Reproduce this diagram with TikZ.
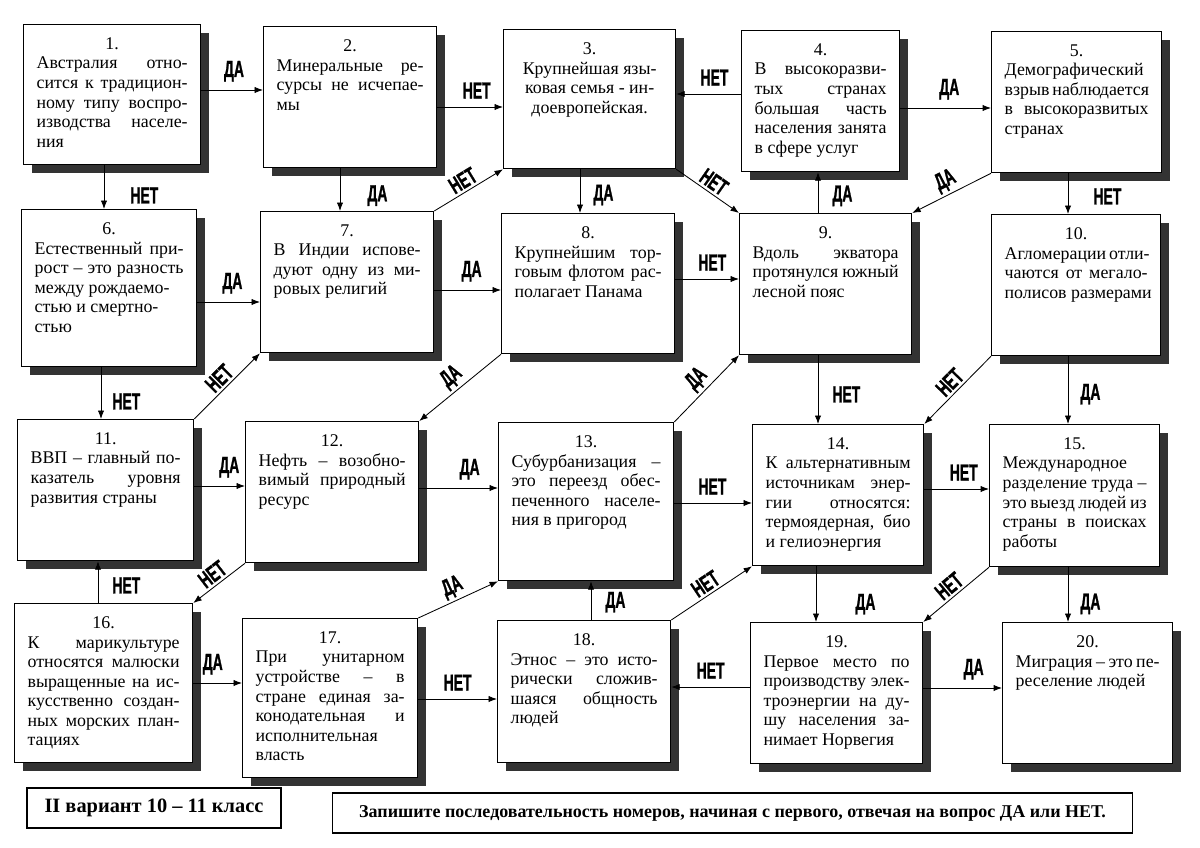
\documentclass[tikz,border=0pt]{standalone}
\usepackage{fontspec}
\setmainfont{Liberation Serif}
\newfontfamily\lblfont[FakeStretch=0.6, BoldFeatures={FakeBold=1}]{Liberation Sans}
\usetikzlibrary{shadows, arrows.meta}

% one line of a box: justified or left
\newcommand{\jline}[1]{\makebox[\linewidth][s]{#1}}
\newcommand{\lline}[1]{\makebox[\linewidth][l]{#1}}
% box text of fixed size (w, h in px of the scan)
\newcommand{\qtext}[3]{%
  \pgfmathsetlengthmacro\qw{#1*0.025cm-0.65cm}%
  \pgfmathsetlengthmacro\qh{#2*0.025cm-0.65cm}%
  \begin{minipage}[t][\qh][t]{\qw}\centering #3\end{minipage}}

\tikzset{
  qbox/.style={draw, line width=0.9pt, fill=white, anchor=north west, inner sep=0.325cm,
    font=\fontsize{12.7}{13.9}\selectfont,
    drop shadow={shadow xshift=0.2cm, shadow yshift=-0.2cm, fill=black!80, opacity=1}},
  infobox/.style={draw, line width=0.8pt, fill=white, minimum height=1cm, inner sep=0pt},
  lbl/.style={font=\lblfont\bfseries\fontsize{16.5}{16.5}\selectfont, inner sep=0pt},
  slbl/.style={font=\lblfont\bfseries\fontsize{16.5}{16.5}\selectfont, inner sep=2pt, sloped, above},
}

\begin{document}
\begin{tikzpicture}[x=0.025cm, y=-0.025cm, >={Latex[length=6pt,width=4.5pt]}, line width=0.6pt]
    \useasboundingbox (0,0) rectangle (1200,847);

    % first row
    \node[qbox] (b1) at (23,24) {\qtext{177}{140}{1.\\ \jline{Австралия отно-}\\ \jline{сится к традицион-}\\ \jline{ному типу воспро-}\\ \jline{изводства населе-}\\ \lline{ния}}};
    \node[qbox] (b2) at (263,26) {\qtext{173}{141}{2.\\ \jline{Минеральные ре-}\\ \jline{сурсы не исчепае-}\\ \lline{мы}}};
    \node[qbox] (b3) at (503,29) {\qtext{172}{139}{3.\\ Крупнейшая язы-\\ ковая семья - ин-\\ доевропейская.}};
    \node[qbox] (b4) at (741,30) {\qtext{158}{141}{4.\\ \jline{В высокоразви-}\\ \jline{тых странах}\\ \jline{большая часть}\\ \jline{населения занята}\\ \lline{в сфере услуг}}};
    \node[qbox] (b5) at (991,31) {\qtext{170}{141}{5.\\ \lline{Демографический}\\ \jline{взрыв наблюдается}\\ \jline{в высокоразвитых}\\ \lline{странах}}};

    % second row
    \node[qbox] (b6) at (21,209) {\qtext{175}{157}{6.\\ \jline{Естественный при-}\\ \jline{рост – это разность}\\ \lline{между рождаемо-}\\ \lline{стью и смертно-}\\ \lline{стью}}};
    \node[qbox] (b7) at (260,211) {\qtext{173}{141}{7.\\ \jline{В Индии испове-}\\ \jline{дуют одну из ми-}\\ \lline{ровых религий}}};
    \node[qbox] (b8) at (501,213) {\qtext{173}{140}{8.\\ \jline{Крупнейшим тор-}\\ \jline{говым флотом рас-}\\ \lline{полагает Панама}}};
    \node[qbox] (b9) at (739,213) {\qtext{172}{141}{9.\\ \jline{Вдоль экватора}\\ \jline{протянулся южный}\\ \lline{лесной пояс}}};
    \node[qbox] (b10) at (991,214) {\qtext{169}{141}{10.\\ \jline{Агломерации отли-}\\ \jline{чаются от мегало-}\\ \lline{полисов размерами}}};

    % third row
    \node[qbox] (b11) at (17,419) {\qtext{176}{141}{11.\\ \jline{ВВП – главный по-}\\ \jline{казатель уровня}\\ \lline{развития страны}}};
    \node[qbox] (b12) at (245,421) {\qtext{173}{141}{12.\\ \jline{Нефть – возобно-}\\ \jline{вимый природный}\\ \lline{ресурс}}};
    \node[qbox] (b13) at (498,422) {\qtext{175}{158}{13.\\ \jline{Субурбанизация –}\\ \jline{это переезд обес-}\\ \jline{печенного населе-}\\ \lline{ния в пригород}}};
    \node[qbox] (b14) at (752,424) {\qtext{171}{141}{14.\\ \jline{К альтернативным}\\ \jline{источникам энер-}\\ \jline{гии относятся:}\\ \jline{термоядерная, био}\\ \lline{и гелиоэнергия}}};
    \node[qbox] (b15) at (989,424) {\qtext{170}{142}{15.\\ \lline{Международное}\\ \jline{разделение труда –}\\ \jline{это выезд людей из}\\ \jline{страны в поисках}\\ \lline{работы}}};

    % fourth row
    \node[qbox] (b16) at (14,603) {\qtext{178}{159}{16.\\ \jline{К марикультуре}\\ \jline{относятся малюски}\\ \jline{выращенные на ис-}\\ \jline{кусственно создан-}\\ \jline{ных морских план-}\\ \lline{тациях}}};
    \node[qbox] (b17) at (242,618) {\qtext{175}{159}{17.\\ \jline{При унитарном}\\ \jline{устройстве – в}\\ \jline{стране единая за-}\\ \jline{конодательная и}\\ \lline{исполнительная}\\ \lline{власть}}};
    \node[qbox] (b18) at (497,620) {\qtext{173}{142}{18.\\ \jline{Этнос – это исто-}\\ \jline{рически сложив-}\\ \jline{шаяся общность}\\ \lline{людей}}};
    \node[qbox] (b19) at (750,622) {\qtext{172}{141}{19.\\ \jline{Первое место по}\\ \jline{производству элек-}\\ \jline{троэнергии на ду-}\\ \jline{шу населения за-}\\ \lline{нимает Норвегия}}};
    \node[qbox] (b20) at (1002,622) {\qtext{170}{141}{20.\\ \jline{Миграция – это пе-}\\ \lline{реселение людей}}};

    % footer
    \node[infobox, minimum width=6.35cm, font=\bfseries\fontsize{14.5}{16}\selectfont] (var) at (154,808) {II вариант 10 – 11 класс};
    \node[infobox, minimum width=19.975cm, font=\bfseries\fontsize{12.8}{14}\selectfont] (task) at (732.5,813) {Запишите последовательность номеров, начиная с первого, отвечая на вопрос ДА или НЕТ.};

    % horizontal arrows
    \draw[->] (b1.east |- 0,90) -- node[lbl, above=0.2cm, pos=.53] {ДА} (b2.west |- 0,90);
    \draw[->] (b2.east |- 0,107) -- node[lbl, above=0.2cm, pos=.6] {НЕТ} (b3.west |- 0,107);
    \draw[->] (b4.west |- 0,94) -- node[lbl, above=0.2cm, pos=.41] {НЕТ} (b3.east |- 0,94);
    \draw[->] (b4.east |- 0,108) -- node[lbl, above=0.2cm, pos=.54] {ДА} (b5.west |- 0,108);
    \draw[->] (b6.east |- 0,302) -- node[lbl, above=0.2cm, pos=.56] {ДА} (b7.west |- 0,302);
    \draw[->] (b7.east |- 0,290) -- node[lbl, above=0.2cm, pos=.56] {ДА} (b8.west |- 0,290);
    \draw[->] (b8.east |- 0,279) -- node[lbl, above=0.2cm, pos=.58] {НЕТ} (b9.west |- 0,279);
    \draw[->] (b11.east |- 0,486) -- node[lbl, above=0.2cm, pos=.69] {ДА} (b12.west |- 0,486);
    \draw[->] (b12.east |- 0,488) -- node[lbl, above=0.2cm, pos=.64] {ДА} (b13.west |- 0,488);
    \draw[->] (b13.east |- 0,503) -- node[lbl, above=0.2cm, pos=.49] {НЕТ} (b14.west |- 0,503);
    \draw[->] (b14.east |- 0,489) -- node[lbl, above=0.2cm, pos=.61] {НЕТ} (b15.west |- 0,489);
    \draw[->] (b16.east |- 0,683) -- node[lbl, above=0.2cm, pos=.4] {ДА} (b17.west |- 0,683);
    \draw[->] (b17.east |- 0,699) -- node[lbl, above=0.2cm, pos=.5] {НЕТ} (b18.west |- 0,699);
    \draw[->] (b19.west |- 0,687) -- node[lbl, above=0.2cm, pos=.5] {НЕТ} (b18.east |- 0,687);
    \draw[->] (b19.east |- 0,688) -- node[lbl, above=0.2cm, pos=.64] {ДА} (b20.west |- 0,688);

    % vertical arrows
    \draw[->] (b1.south -| 104,0) -- node[lbl, right=0.65cm, pos=.69] {НЕТ} (b6.north -| 104,0);
    \draw[->] (b2.south -| 340,0) -- node[lbl, right=0.675cm, pos=.64] {ДА} (b7.north -| 340,0);
    \draw[->] (b3.south -| 580,0) -- node[lbl, right=0.325cm, pos=.59] {ДА} (b8.north -| 580,0);
    \draw[->] (b9.north -| 818,0) -- node[lbl, right=0.35cm, pos=.42] {ДА} (b4.south -| 818,0);
    \draw[->] (b5.south -| 1068,0) -- node[lbl, right=0.625cm, pos=.57] {НЕТ} (b10.north -| 1068,0);
    \draw[->] (b6.south -| 101,0) -- node[lbl, right=0.275cm, pos=.66] {НЕТ} (b11.north -| 101,0);
    \draw[->] (b9.south -| 818,0) -- node[lbl, right=0.35cm, pos=.57] {НЕТ} (b14.north -| 818,0);
    \draw[->] (b10.south -| 1068,0) -- node[lbl, right=0.3cm, pos=.56] {ДА} (b15.north -| 1068,0);
    \draw[->] (b16.north -| 98,0) -- node[lbl, right=0.35cm, pos=.42] {НЕТ} (b11.south -| 98,0);
    \draw[->] (b18.north -| 591,0) -- node[lbl, right=0.35cm, pos=.46] {ДА} (b13.south -| 591,0);
    \draw[->] (b14.south -| 816,0) -- node[lbl, right=0.975cm, pos=.68] {ДА} (b19.north -| 816,0);
    \draw[->] (b15.south -| 1068,0) -- node[lbl, right=0.3cm, pos=.67] {ДА} (b20.north -| 1068,0);

    % diagonal arrows
    \draw[->] (b3.south east) -- node[slbl] {НЕТ} (b9.north west);
    \draw[->] (b7.north east) -- node[slbl] {НЕТ} (b3.south west);
    \draw[->] (b5.south west) -- node[slbl] {ДА} (b9.north east);
    \draw[->] (b11.north east) -- node[slbl] {НЕТ} (b7.south west);
    \draw[->] (b8.south west) -- node[slbl] {ДА} (b12.north east);
    \draw[->] (b13.north east) -- node[slbl] {ДА} (b9.south west);
    \draw[->] (b10.south west) -- node[slbl] {НЕТ} (b14.north east);
    \draw[->] (b12.south west) -- node[slbl] {НЕТ} (b16.north east);
    \draw[->] (b17.north east) -- node[slbl] {ДА} (b13.south west);
    \draw[->] (b18.north east) -- node[slbl] {НЕТ} (b14.south west);
    \draw[->] (b15.south west) -- node[slbl] {НЕТ} (b19.north east);
\end{tikzpicture}
\end{document}
